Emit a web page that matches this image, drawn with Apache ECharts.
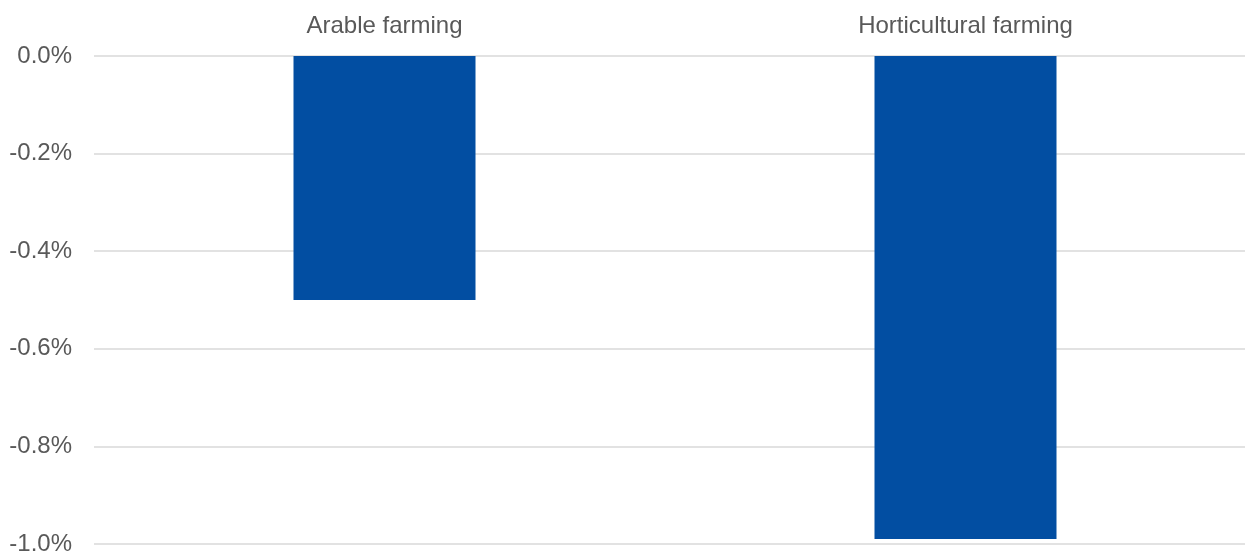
<!DOCTYPE html>
<html>
<head>
<meta charset="utf-8">
<script src="https://cdn.jsdelivr.net/npm/echarts@6/dist/echarts.min.js"></script>
<style>
html,body{margin:0;padding:0;background:#fff;}
#chart{width:1245px;height:552px;}
</style>
</head>
<body>
<div id="chart"></div>
<script>
const categories = ['Arable farming', 'Horticultural farming'];
const values = [-0.50, -0.99];
const yMin = -1.0, yMax = 0.0, yStep = 0.2;

const chart = echarts.init(document.getElementById('chart'), null, {renderer: 'canvas'});
const font = 'Liberation Sans, Arial, sans-serif';
chart.setOption({
  animation: false,
  backgroundColor: '#ffffff',
  grid: {left: 94, right: -11, top: 56, bottom: 8, containLabel: false, outerBoundsMode: 'none'},
  xAxis: {
    type: 'category',
    position: 'top',
    data: categories,
    axisLine: {show: false},
    axisTick: {show: false},
    axisLabel: {color: '#595959', fontSize: 24, fontFamily: font, margin: 18}
  },
  yAxis: {
    type: 'value',
    min: yMin, max: yMax, interval: yStep,
    axisLine: {show: false},
    axisTick: {show: false},
    splitLine: {lineStyle: {color: '#D9D9D9', width: 1.5}},
    axisLabel: {
      color: '#595959', fontSize: 24, fontFamily: font, margin: 22,
      formatter: v => v.toFixed(1) + '%'
    }
  },
  series: [{
    type: 'bar',
    data: values,
    barWidth: 182,
    itemStyle: {color: '#024EA2'}
  }]
});
</script>
</body>
</html>
